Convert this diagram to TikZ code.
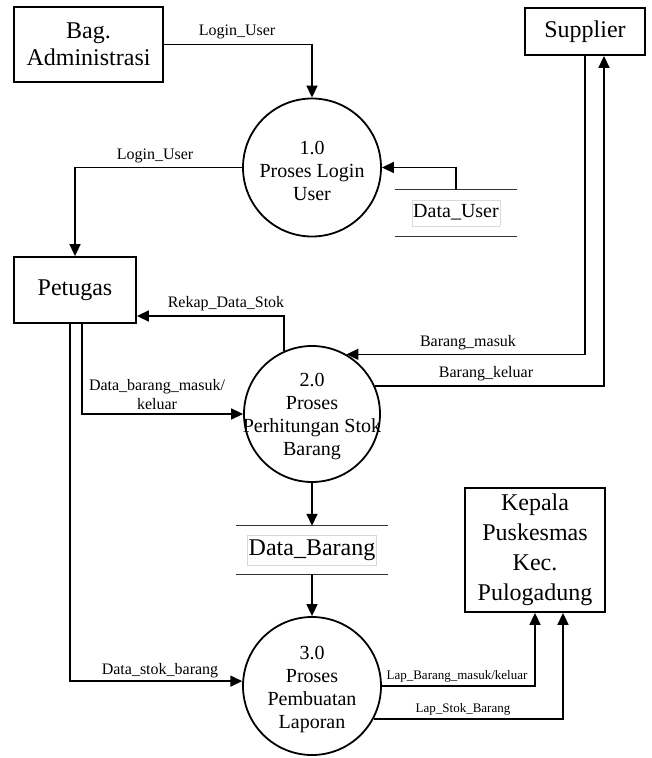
\documentclass[tikz,border=0pt]{standalone}
\usepackage{fontspec}
\setmainfont{Liberation Serif}
\usetikzlibrary{arrows.meta}
\setlength{\fboxsep}{1pt}
\setlength{\fboxrule}{0.6pt}
\begin{document}
\begin{tikzpicture}[x=1pt,y=-1pt,
  ent/.style={draw, line width=1.8pt, rectangle, align=center, inner sep=0pt, font=\fontsize{24}{27}\selectfont},
  proc/.style={draw, line width=1.8pt, circle, minimum size=138pt, inner sep=0pt},
  ptext/.style={align=center, inner sep=0pt, font=\fontsize{20}{23}\selectfont, yshift=-3pt},
  storebox/.style={minimum height=46pt, inner sep=0pt},
  storeline/.style={line width=1pt, black!80},
  flow/.style={line width=1.6pt, -{Triangle[length=12pt,width=11pt]}},
  lbl/.style={font=\fontsize{16}{19}\selectfont, inner sep=0pt, align=center},
  slbl/.style={font=\fontsize{13}{15}\selectfont, inner sep=0pt}
]
\useasboundingbox (0,0) rectangle (652,758);

% external entities
\node[ent, minimum width=149pt, minimum height=75pt] (bag) at (88.5,44.5) {Bag.\\Administrasi};
\node[ent, minimum width=120pt, minimum height=47pt] (sup) at (585,31.5) {Supplier};
\node[ent, minimum width=122pt, minimum height=66pt] (pet) at (75,290) {Petugas};
\node[ent, minimum width=140pt, minimum height=124pt, font=\fontsize{24}{30}\selectfont] (kep) at (535,550) {Kepala\\Puskesmas\\Kec.\\Pulogadung};

% processes
\node[proc, label={[ptext]center:{1.0\\Proses Login\\User}}] (c1) at (312,167.5) {};
\node[proc, minimum size=136pt, label={[ptext]center:{2.0\\Proses\\Perhitungan Stok\\Barang}}] (c2) at (312,414) {};
\node[proc, label={[ptext]center:{3.0\\Proses\\Pembuatan\\Laporan}}] (c3) at (312,686) {};

% data stores
\node[storebox, minimum width=121pt, font=\fontsize{20}{23}\selectfont] (du) at (456,213) {\fcolorbox{black!15}{white}{\strut Data\_User}};
\draw[storeline] (du.north west) -- (du.north east) (du.south west) -- (du.south east);
\node[storebox, minimum width=152pt, minimum height=48pt, font=\fontsize{24}{27}\selectfont] (db) at (312,550) {\fcolorbox{black!15}{white}{\strut Data\_Barang}};
\draw[storeline] (db.north west) -- (db.north east) (db.south west) -- (db.south east);

% flows
\draw[flow] (bag.east) -| (c1.north);
\node[lbl] (l1) at (237,32) {Login\_User};

\draw[flow] (c1.west) -| (pet.north);
\node[lbl] (l2) at (155,156) {Login\_User};

\draw[flow] (du.north) |- (c1.east);

\draw[flow] (sup.south) |- (c2.60);
\node[lbl] (l3) at (468,343) {Barang\_masuk};

\draw[flow] (c2.24) -| ([xshift=19pt]sup.south);
\node[lbl] (l4) at (486,374) {Barang\_keluar};

\draw[flow] (c2.114) |- ([yshift=-26pt]pet.east);
\node[lbl] (l5) at (226,304) {Rekap\_Data\_Stok};

\draw[flow] ([xshift=7pt]pet.south) |- (c2.west);
\node[lbl] (l6) at (157,395) {Data\_barang\_masuk/\\keluar};

\draw[flow] ([xshift=-5pt]pet.south) |- (c3.176);
\node[lbl] (l7) at (160,671) {Data\_stok\_barang};

\draw[flow] (c2.south) -- (db.north);
\draw[flow] (db.south) -- (c3.north);

\draw[flow] (c3.east) -| (kep.south);
\node[slbl] (l8) at (457,676) {Lap\_Barang\_masuk/keluar};

\draw[flow] (c3.-28) -| ([xshift=28pt]kep.south);
\node[slbl] (l9) at (463,709) {Lap\_Stok\_Barang};
\end{tikzpicture}
\end{document}
